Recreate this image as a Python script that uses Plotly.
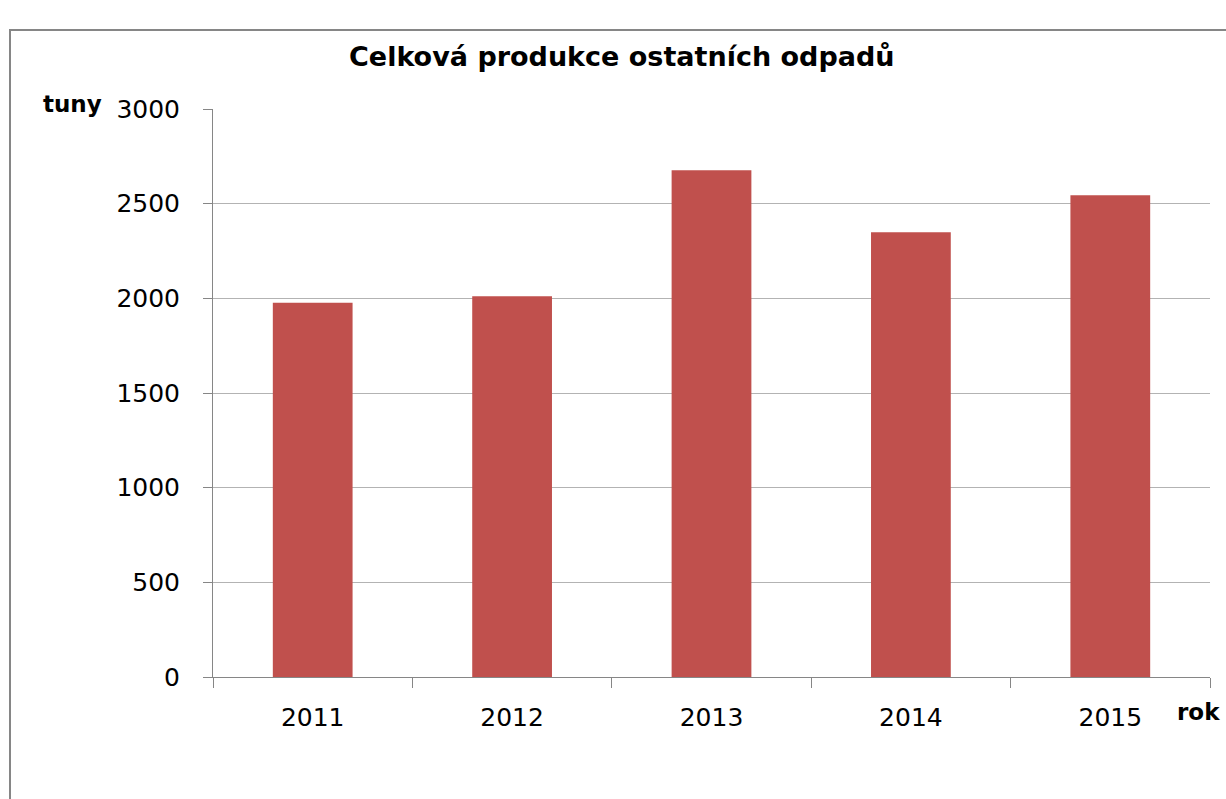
import plotly.graph_objects as go

years = ["2011", "2012", "2013", "2014", "2015"]
values = [1977, 2011, 2677, 2349, 2545]
y_ticks = [0, 500, 1000, 1500, 2000, 2500, 3000]

W, H = 1226, 799
L, R, T, B = 213, 16, 109, 122
pw, ph = W - L - R, H - T - B

def px_to_paper_x(px):
    return (px - L) / pw

def px_to_paper_y(py):
    return (H - B - py) / ph

font_family = "DejaVu Sans"

fig = go.Figure()
fig.add_trace(go.Bar(
    x=years, y=values,
    marker=dict(color="#C0504D", line=dict(width=0)),
    width=0.4,
))

fig.update_layout(
    width=W, height=H,
    margin=dict(l=L, r=R, t=T, b=B),
    paper_bgcolor="white", plot_bgcolor="white",
    showlegend=False,
    font=dict(family=font_family, color="#000000"),
    xaxis=dict(
        type="category",
        showline=True, linecolor="#868686", linewidth=1,
        ticks="outside", tickson="boundaries", ticklen=10, tickcolor="#868686",
        tickfont=dict(size=25, family=font_family),
        showgrid=False,
        ticklabelstandoff=18,
    ),
    yaxis=dict(
        range=[0, 3000],
        tickvals=y_ticks,
        showline=True, linecolor="#868686", linewidth=1,
        ticks="outside", ticklen=9, tickcolor="#868686",
        tickfont=dict(size=25, family=font_family),
        showgrid=True, gridcolor="#B3B3B3", gridwidth=1,
        zeroline=False,
        ticklabelstandoff=18,
    ),
    shapes=[dict(
        type="rect", xref="paper", yref="paper",
        x0=px_to_paper_x(10), x1=px_to_paper_x(1240),
        y0=px_to_paper_y(820), y1=px_to_paper_y(30),
        line=dict(color="#868686", width=2), fillcolor="rgba(0,0,0,0)",
        layer="below",
    )],
    annotations=[
        dict(text="<b>Celková produkce ostatních odpadů</b>",
             xref="paper", yref="paper",
             x=px_to_paper_x(622), y=px_to_paper_y(57),
             xanchor="center", yanchor="middle", showarrow=False,
             font=dict(size=27, family=font_family, color="#000000")),
        dict(text="<b>tuny</b>",
             xref="paper", yref="paper",
             x=px_to_paper_x(41), y=px_to_paper_y(104),
             xanchor="left", yanchor="middle", showarrow=False,
             font=dict(size=23, family=font_family, color="#000000")),
        dict(text="<b>rok</b>",
             xref="paper", yref="paper",
             x=px_to_paper_x(1175), y=px_to_paper_y(712),
             xanchor="left", yanchor="middle", showarrow=False,
             font=dict(size=23, family=font_family, color="#000000")),
    ],
)

fig.write_html(
    "out.html",
    config={"displayModeBar": False},
    post_script="document.body.style.margin='0';document.body.style.overflow='hidden';",
)
